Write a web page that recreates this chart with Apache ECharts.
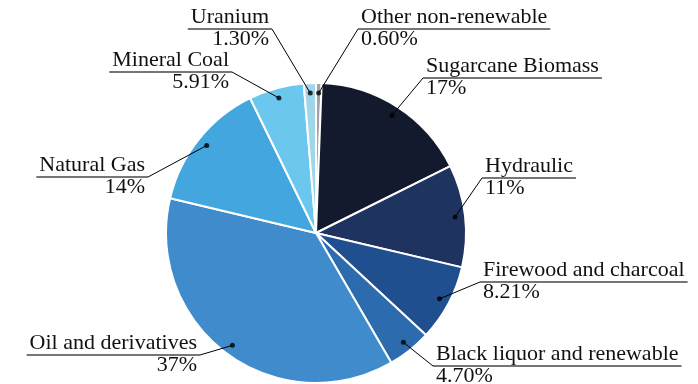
<!DOCTYPE html>
<html>
<head>
<meta charset="utf-8">
<script src="https://cdn.jsdelivr.net/npm/echarts@6/dist/echarts.min.js"></script>
<style>
html,body{margin:0;padding:0;background:#fff;}
#chart{width:698px;height:384px;}
</style>
</head>
<body>
<div id="chart"></div>
<script>
// ---- data ----
const categories = ['Other non-renewable','Sugarcane Biomass','Hydraulic','Firewood and charcoal','Black liquor and renewable','Oil and derivatives','Natural Gas','Mineral Coal','Uranium'];
const values = [0.60, 17, 11, 8.21, 4.70, 37, 14, 5.91, 1.30];

// ---- styles / layout ----
const colors = ['#a3a3a3','#141a2e','#1f3361','#1f4f8e','#2b6bae','#3f8bcb','#43a6de','#6cc7ef','#9fd6ea'];
const CX = 316, CY = 233, R = 150, DOT_R = 140;
// inner end of each label's underline (where the leader line meets it)
const labelAnchors = [[358,29],[423,78],[482,178],[480,282],[433,366],[200,355],[148,177],[232,72],[272,29]];
const FONT = '"Liberation Serif", "Times New Roman", serif';
const NAME_LH = 24;

const total = values.reduce((s, v) => s + v, 0);
const fmt = v => (Number.isInteger(v) ? String(v) : v.toFixed(2)) + '%';

const pieData = categories.map((c, i) => ({ name: c, value: values[i], itemStyle: { color: colors[i] } }));
let acc = 0;
const dotData = values.map(v => { const mid = acc + v / 2; acc += v; return [DOT_R, mid]; });

const chart = echarts.init(document.getElementById('chart'), null, { renderer: 'canvas' });
chart.setOption({
  animation: false,
  backgroundColor: '#fff',
  polar: { center: [CX, CY], radius: R },
  angleAxis: { type: 'value', min: 0, max: total, startAngle: 90, clockwise: true, show: false },
  radiusAxis: { type: 'value', min: 0, max: R, show: false },
  series: [
    {
      type: 'pie',
      center: [CX, CY],
      radius: [0, R],
      startAngle: 90,
      clockwise: true,
      silent: true,
      label: { show: false },
      labelLine: { show: false },
      itemStyle: { borderColor: '#ffffff', borderWidth: 2 },
      data: pieData,
      z: 1
    },
    {
      type: 'pie',
      center: [CX, CY],
      radius: [0, DOT_R],
      startAngle: 90,
      clockwise: true,
      silent: true,
      avoidLabelOverlap: false,
      itemStyle: { color: 'rgba(0,0,0,0)', borderWidth: 0 },
      label: {
        show: true,
        position: 'outside',
        formatter: p => '{name|' + p.name + '}\n{hr|}\n{val|' + fmt(p.value) + '}',
        rich: {
          name: { fontFamily: FONT, fontSize: 22, lineHeight: NAME_LH, color: '#111', padding: [0, 3] },
          hr: { borderColor: '#767676', borderWidth: 2, width: '100%', height: 0 },
          val: { fontFamily: FONT, fontSize: 22, lineHeight: 20, color: '#111', padding: [0, 3] }
        }
      },
      labelLine: { show: true, length: 10, length2: 10, lineStyle: { color: '#000', width: 1 } },
      labelLayout: function (p) {
        const a = labelAnchors[p.dataIndex];
        let start = p.labelLinePoints && p.labelLinePoints[0];
        if (!start) {
          const mid = dotData[p.dataIndex][1] / total * Math.PI * 2;
          start = [CX + DOT_R * Math.sin(mid), CY - DOT_R * Math.cos(mid)];
        }
        const right = a[0] > start[0];
        return {
          x: a[0], y: a[1] - NAME_LH,
          align: right ? 'left' : 'right',
          verticalAlign: 'top',
          labelLinePoints: [start, a]
        };
      },
      data: categories.map((c, i) => ({ name: c, value: values[i] })),
      z: 2
    },
    {
      type: 'scatter',
      coordinateSystem: 'polar',
      symbol: 'circle',
      symbolSize: 5,
      silent: true,
      itemStyle: { color: '#000' },
      data: dotData,
      z: 3
    }
  ]
});
</script>
</body>
</html>
